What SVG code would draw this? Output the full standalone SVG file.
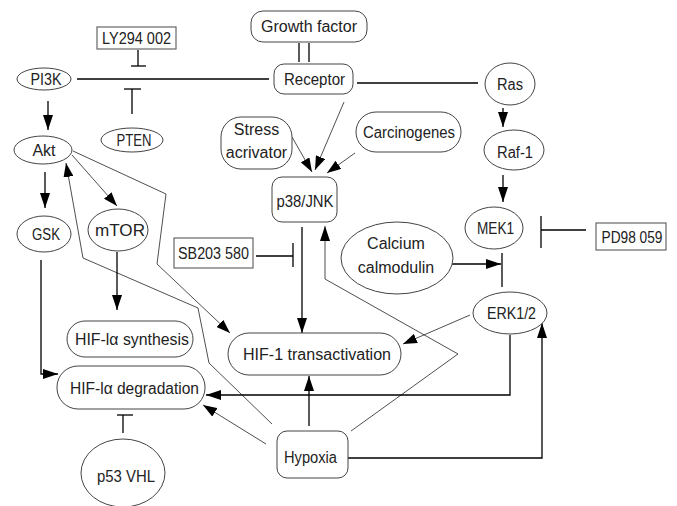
<svg xmlns="http://www.w3.org/2000/svg" width="677" height="506" viewBox="0 0 677 506">
<defs>
<style>
.n{fill:#fff;stroke:#444;stroke-width:1}
.b{fill:#fff;stroke:#666;stroke-width:1.2}
.t{font-family:"Liberation Sans",Arial,sans-serif;font-size:16px;fill:#222;text-anchor:middle;dominant-baseline:central}
.c{fill:none;stroke:#000;stroke-width:1.3}
.th{fill:none;stroke:#222;stroke-width:0.8}
.a{marker-end:url(#ah)}
.as{marker-end:url(#ahs)}
</style>
<marker id="ah" markerUnits="userSpaceOnUse" markerWidth="15" markerHeight="10" refX="15" refY="5" orient="auto"><path d="M0,0 L15,5 L0,10 z" fill="#000"/></marker>
<marker id="ahs" markerUnits="userSpaceOnUse" markerWidth="14" markerHeight="10" refX="14" refY="5" orient="auto"><path d="M0,0 L14,5 L0,10 z" fill="#000"/></marker>
</defs>
<rect width="677" height="506" fill="#fff"/>
<g id="connectors">
<line class="c" x1="299" y1="43" x2="299" y2="62"/>
<line class="c" x1="309" y1="43" x2="309" y2="62"/>
<line class="c" x1="77" y1="79" x2="269" y2="79"/>
<line class="c" x1="138" y1="50" x2="138" y2="66"/>
<line class="c" x1="131" y1="66" x2="146" y2="66"/>
<line class="c" x1="132" y1="114" x2="132" y2="89"/>
<line class="c" x1="124" y1="89" x2="141" y2="89"/>
<line class="c" x1="357" y1="83" x2="478" y2="83"/>
<line class="c a" x1="48" y1="101" x2="48" y2="130"/>
<line class="c a" x1="503" y1="108" x2="503" y2="127"/>
<line class="c a" x1="503" y1="175" x2="503" y2="202"/>
<line class="th as" x1="292" y1="137" x2="312" y2="172"/>
<line class="th as" x1="344" y1="102" x2="315" y2="170"/>
<line class="th as" x1="355" y1="153" x2="327" y2="173"/>
<line class="c a" x1="45" y1="172" x2="45" y2="208"/>
<line class="th as" x1="72" y1="155" x2="117" y2="206"/>
<polyline class="th as" points="73,151 166,194 157,264 230,333"/>
<polyline class="th as" points="272,424 209,363 198,308 83,258 66,163"/>
<line class="c a" x1="117" y1="252" x2="117" y2="310"/>
<polyline class="c a" points="41,260 41,374 58,374"/>
<line class="c" x1="123" y1="433" x2="123" y2="415"/>
<line class="c" x1="117" y1="415" x2="133" y2="415"/>
<line class="c" x1="256" y1="256" x2="293" y2="256"/>
<line class="c" x1="293" y1="243" x2="293" y2="267"/>
<line class="c a" x1="302" y1="227" x2="302" y2="333"/>
<line class="c a" x1="309" y1="426" x2="309" y2="376"/>
<line class="th as" x1="266" y1="444" x2="203" y2="405"/>
<polyline class="th a" points="351,431 458,354 325,279 325,226"/>
<line class="c" x1="586" y1="230" x2="541" y2="230"/>
<line class="c" x1="541" y1="216" x2="541" y2="248"/>
<line class="c a" x1="452" y1="264" x2="501" y2="264"/>
<line class="c" x1="502" y1="253" x2="502" y2="287"/>
<line class="th as" x1="470" y1="315" x2="403" y2="344"/>
<polyline class="c a" points="510,335 510,395 206,395"/>
<polyline class="c a" points="348,458 542,458 542,323"/>
</g>
<g id="growth-factor"><rect class="n" x="251" y="11" width="116" height="31" rx="12"/><text class="t" x="309" y="26">Growth factor</text></g>
<g id="receptor"><rect class="n" x="274" y="64" width="79" height="30" rx="10"/><text class="t" x="314.5" y="79" textLength="61" lengthAdjust="spacingAndGlyphs">Receptor</text></g>
<g id="pi3k"><ellipse class="n" cx="44" cy="79" rx="27" ry="11"/><text class="t" x="46" y="79" textLength="31" lengthAdjust="spacingAndGlyphs">PI3K</text></g>
<g id="ly294002"><rect class="b" x="97" y="27" width="79" height="22"/><text class="t" x="136.5" y="38" textLength="69" lengthAdjust="spacingAndGlyphs">LY294 002</text></g>
<g id="pten"><ellipse class="n" cx="132" cy="140" rx="31" ry="12"/><text class="t" x="134" y="140" textLength="35" lengthAdjust="spacingAndGlyphs">PTEN</text></g>
<g id="ras"><ellipse class="n" cx="510" cy="84" rx="25" ry="21"/><text class="t" x="510" y="84" textLength="26" lengthAdjust="spacingAndGlyphs">Ras</text></g>
<g id="stress"><rect class="n" x="221" y="117" width="71" height="52" rx="20"/><text class="t" x="256.5" y="129">Stress</text><text class="t" x="256.5" y="152">acrivator</text></g>
<g id="carcinogenes"><rect class="n" x="356" y="112" width="105" height="40" rx="20"/><text class="t" x="409" y="132" textLength="92" lengthAdjust="spacingAndGlyphs">Carcinogenes</text></g>
<g id="raf1"><ellipse class="n" cx="514" cy="150" rx="30" ry="20"/><text class="t" x="515" y="152" textLength="36" lengthAdjust="spacingAndGlyphs">Raf-1</text></g>
<g id="akt"><ellipse class="n" cx="43" cy="150" rx="29" ry="14"/><text class="t" x="44" y="150">Akt</text></g>
<g id="p38jnk"><rect class="n" x="272" y="177" width="65" height="45" rx="10"/><text class="t" x="305" y="201" textLength="57" lengthAdjust="spacingAndGlyphs">p38/JNK</text></g>
<g id="gsk"><ellipse class="n" cx="44" cy="234" rx="27" ry="18"/><text class="t" x="46" y="234" textLength="28" lengthAdjust="spacingAndGlyphs">GSK</text></g>
<g id="mtor"><ellipse class="n" cx="118" cy="230" rx="30" ry="21"/><text class="t" x="120" y="230" textLength="50" lengthAdjust="spacingAndGlyphs">mTOR</text></g>
<g id="mek1"><ellipse class="n" cx="494" cy="228" rx="29" ry="21"/><text class="t" x="495.5" y="228" textLength="37" lengthAdjust="spacingAndGlyphs">MEK1</text></g>
<g id="pd98059"><rect class="b" x="596" y="223" width="70" height="27"/><text class="t" x="632" y="237" textLength="61" lengthAdjust="spacingAndGlyphs">PD98 059</text></g>
<g id="sb203580"><rect class="b" x="174" y="238" width="79" height="30"/><text class="t" x="213.5" y="253" textLength="71" lengthAdjust="spacingAndGlyphs">SB203 580</text></g>
<g id="calcium"><ellipse class="n" cx="397" cy="258" rx="56" ry="36"/><text class="t" x="396" y="243">Calcium</text><text class="t" x="396" y="267">calmodulin</text></g>
<g id="erk"><ellipse class="n" cx="510" cy="313" rx="37" ry="21"/><text class="t" x="511.5" y="313" textLength="49" lengthAdjust="spacingAndGlyphs">ERK1/2</text></g>
<g id="hif-synthesis"><rect class="n" x="67" y="321" width="126" height="36" rx="18"/><text class="t" x="132" y="339" textLength="114" lengthAdjust="spacingAndGlyphs">HIF-lα synthesis</text></g>
<g id="hif-transactivation"><rect class="n" x="228" y="333" width="173" height="42" rx="21"/><text class="t" x="317" y="354" textLength="148" lengthAdjust="spacingAndGlyphs">HIF-1 transactivation</text></g>
<g id="hif-degradation"><rect class="n" x="57" y="366" width="148" height="43" rx="21"/><text class="t" x="134.5" y="388" textLength="129" lengthAdjust="spacingAndGlyphs">HIF-lα degradation</text></g>
<g id="hypoxia"><rect class="n" x="277" y="431" width="71" height="47" rx="10"/><text class="t" x="310.5" y="457" textLength="53" lengthAdjust="spacingAndGlyphs">Hypoxia</text></g>
<g id="p53vhl"><ellipse class="n" cx="123" cy="473" rx="42" ry="34"/><text class="t" x="126" y="476" textLength="58" lengthAdjust="spacingAndGlyphs">p53 VHL</text></g>
</svg>
